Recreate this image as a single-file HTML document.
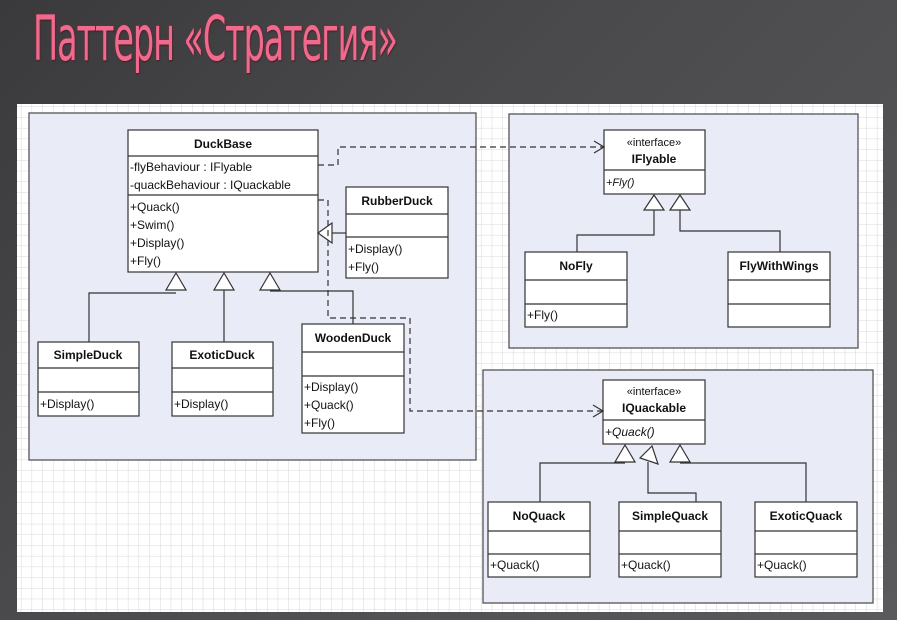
<!DOCTYPE html>
<html><head><meta charset="utf-8"><style>
body{margin:0;width:897px;height:620px;overflow:hidden;background:linear-gradient(135deg,#3a3a3c 0%,#4a4a4c 40%,#5a5a5c 100%);position:relative;font-family:"Liberation Sans",sans-serif}
.title{position:absolute;left:33px;top:2px;font-size:62px;color:#f06a8e;letter-spacing:-2px;text-shadow:0 0 3px #8a2a40,1px 1px 2px #222;font-family:"DejaVu Sans","Liberation Sans",sans-serif;font-weight:normal;transform:scaleX(0.54);transform-origin:left;white-space:nowrap}
svg{position:absolute;left:0;top:0}
text{font-family:"Liberation Sans",sans-serif;font-size:12px;fill:#111}
.b{font-weight:bold;text-anchor:middle}
</style></head><body>
<div class="title">Паттерн «Стратегия»</div>
<svg width="897" height="620" viewBox="0 0 897 620">
<defs>
<pattern id="g" width="10.7" height="10.7" patternUnits="userSpaceOnUse"><rect width="10.7" height="10.7" fill="#fff"/><path d="M10.7 0V10.7H0" fill="none" stroke="#d8d8dc" stroke-width="1"/></pattern>
</defs>
<rect x="17" y="104" width="866" height="508" fill="url(#g)"/>
<g fill="#e9ecf7" stroke="#555" stroke-width="1.3">
<rect x="29" y="113" width="447" height="347"/>
<rect x="509" y="114" width="349" height="234"/>
<rect x="483" y="370" width="390" height="233"/>
</g>
<g fill="#fff" stroke="#333" stroke-width="1.2">
<rect x="128" y="130" width="190" height="142"/><line x1="128" y1="156" x2="318" y2="156"/><line x1="128" y1="195" x2="318" y2="195"/>
<rect x="346" y="187" width="102" height="91"/><line x1="346" y1="214" x2="448" y2="214"/><line x1="346" y1="237" x2="448" y2="237"/>
<rect x="38" y="342" width="101" height="74"/><line x1="38" y1="368" x2="139" y2="368"/><line x1="38" y1="392" x2="139" y2="392"/>
<rect x="172" y="342" width="101" height="74"/><line x1="172" y1="368" x2="273" y2="368"/><line x1="172" y1="392" x2="273" y2="392"/>
<rect x="302" y="324" width="102" height="109"/><line x1="302" y1="352" x2="404" y2="352"/><line x1="302" y1="376" x2="404" y2="376"/>
<rect x="604" y="130" width="101" height="64"/><line x1="604" y1="170" x2="705" y2="170"/>
<rect x="525" y="252" width="102" height="75"/><line x1="525" y1="280" x2="627" y2="280"/><line x1="525" y1="304" x2="627" y2="304"/>
<rect x="728" y="252" width="102" height="75"/><line x1="728" y1="280" x2="830" y2="280"/><line x1="728" y1="304" x2="830" y2="304"/>
<rect x="603" y="380" width="102" height="64"/><line x1="603" y1="420" x2="705" y2="420"/>
<rect x="488" y="502" width="102" height="75"/><line x1="488" y1="531" x2="590" y2="531"/><line x1="488" y1="554" x2="590" y2="554"/>
<rect x="619" y="502" width="102" height="75"/><line x1="619" y1="531" x2="721" y2="531"/><line x1="619" y1="554" x2="721" y2="554"/>
<rect x="755" y="502" width="102" height="75"/><line x1="755" y1="531" x2="857" y2="531"/><line x1="755" y1="554" x2="857" y2="554"/>
</g>
<g fill="none" stroke="#333" stroke-width="1.2">
<polyline points="89,342 89,293 176,293"/><line x1="224" y1="342" x2="224" y2="290"/><polyline points="353,324 353,291 270,291"/>
<line x1="330" y1="233" x2="346" y2="233"/>
<polyline points="577,252 577,235 654,235 654,210"/><polyline points="780,252 780,231 680,231 680,210"/>
<polyline points="540,502 540,463 625,463"/><polyline points="696,502 696,493 648,493 648,462"/><polyline points="806,502 806,463 680,463"/>
</g>
<g fill="#fff" stroke="#333" stroke-width="1.2">
<polygon points="176,273 166,290 186,290"/><polygon points="224,273 214,290 234,290"/><polygon points="270,273 260,290 280,290"/>
<polygon points="318,233 332,223 332,243"/>
<polygon points="654,195 644,210 664,210"/><polygon points="680,195 670,210 690,210"/>
<polygon points="625,445 615,462 635,462"/><polygon points="652,446 640,458 658,464"/><polygon points="680,445 670,462 690,462"/>
</g>
<g fill="none" stroke="#333" stroke-width="1.2" stroke-dasharray="6,4">
<polyline points="318,165 338,165 338,147 603,147"/>
<polyline points="318,200 328,200 328,318 410,318 410,411 602,411"/>
</g>
<g fill="none" stroke="#333" stroke-width="1.2">
<polyline points="594,141 604,147 594,153"/><polyline points="593,405 603,411 593,417"/>
</g>
<text x="223" y="148" class="b">DuckBase</text>
<text x="130" y="171">-flyBehaviour : IFlyable</text>
<text x="130" y="189">-quackBehaviour : IQuackable</text>
<text x="130" y="211">+Quack()</text><text x="130" y="229">+Swim()</text><text x="130" y="247">+Display()</text><text x="130" y="265">+Fly()</text>
<text x="397" y="205" class="b">RubberDuck</text><text x="348" y="253">+Display()</text><text x="348" y="271">+Fly()</text>
<text x="88" y="359" class="b">SimpleDuck</text><text x="40" y="408">+Display()</text>
<text x="222" y="359" class="b">ExoticDuck</text><text x="174" y="408">+Display()</text>
<text x="353" y="342" class="b">WoodenDuck</text><text x="304" y="391">+Display()</text><text x="304" y="409">+Quack()</text><text x="304" y="427">+Fly()</text>
<text x="654" y="146" text-anchor="middle" style="font-size:11px">«interface»</text><text x="654" y="163" class="b">IFlyable</text><text x="606" y="186" font-style="italic" style="font-size:11px">+Fly()</text>
<text x="576" y="270" class="b">NoFly</text><text x="527" y="319">+Fly()</text>
<text x="779" y="270" class="b">FlyWithWings</text>
<text x="654" y="395" text-anchor="middle" style="font-size:11px">«interface»</text><text x="654" y="412" class="b">IQuackable</text><text x="605" y="436" font-style="italic">+Quack()</text>
<text x="539" y="520" class="b">NoQuack</text><text x="490" y="569">+Quack()</text>
<text x="670" y="520" class="b">SimpleQuack</text><text x="621" y="569">+Quack()</text>
<text x="806" y="520" class="b">ExoticQuack</text><text x="757" y="569">+Quack()</text>
</svg>
</body></html>
